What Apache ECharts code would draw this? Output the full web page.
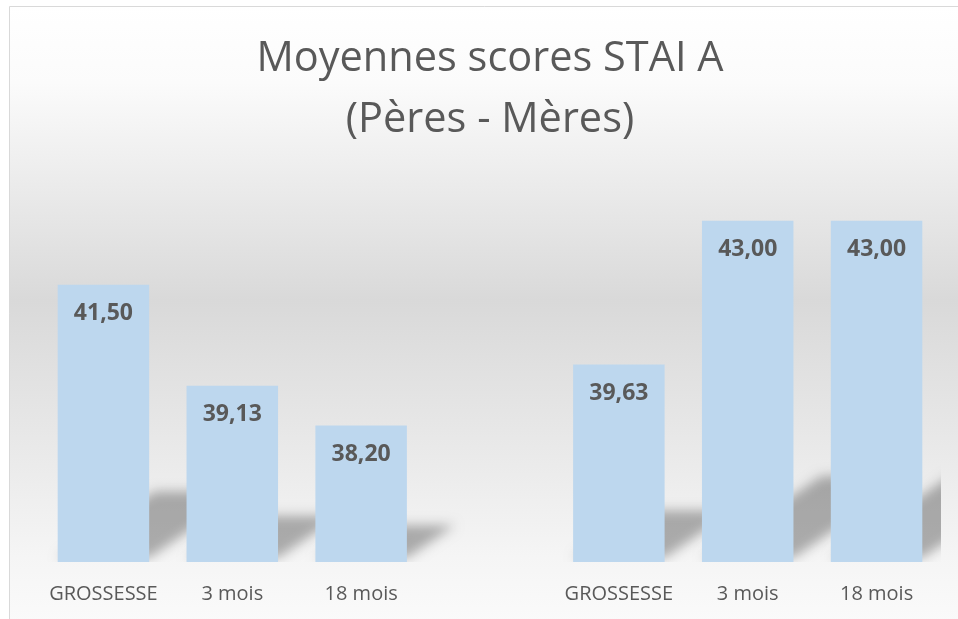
<!DOCTYPE html>
<html>
<head>
<meta charset="utf-8">
<script src="https://cdn.jsdelivr.net/npm/echarts@6/dist/echarts.min.js"></script>
<style>
  html, body { margin: 0; padding: 0; background: #fff; }
  #chart { width: 958px; height: 619px; }
</style>
</head>
<body>
<div id="chart"></div>
<script>
// Moyennes scores STAI A, pères puis mères
var periods = ['GROSSESSE', '3 mois', '18 mois'];
var peres = [41.50, 39.13, 38.20];
var meres = [39.63, 43.00, 43.00];

// une catégorie vide sépare les deux groupes
var categories = periods.concat(['']).concat(periods);
var values = peres.concat(['-']).concat(meres);

var shadowData = [];
values.forEach(function (v, i) {
  if (v !== '-') shadowData.push([i, v]);
});

var yMin = 35;
var yMax = 44;

var chart = echarts.init(document.getElementById('chart'));

var option = {
  animation: false,
  title: {
    text: 'Moyennes scores STAI A\n(Pères - Mères)',
    left: 490,
    top: 29,
    padding: 0,
    textAlign: 'center',
    textStyle: {
      fontFamily: 'Open Sans',
      fontWeight: 'normal',
      fontSize: 41.5,
      lineHeight: 61,
      color: '#595959'
    }
  },
  graphic: [{
    type: 'rect',
    z: -10,
    shape: { x: 9.5, y: 6.5, width: 990, height: 640 },
    style: {
      stroke: '#d9d9d9',
      lineWidth: 1,
      fill: {
        type: 'linear',
        x: 0, y: 0, x2: 0, y2: 1,
        colorStops: [
          { offset: 0, color: '#ffffff' },
          { offset: 0.12, color: '#fbfbfb' },
          { offset: 0.46, color: '#d9d9d9' },
          { offset: 0.86, color: '#f5f5f5' },
          { offset: 1, color: '#fcfcfc' }
        ]
      }
    }
  }],
  grid: { left: 39, right: 17, top: 178, bottom: 57 },
  xAxis: {
    type: 'category',
    data: categories,
    axisLine: { show: false },
    axisTick: { show: false },
    axisLabel: {
      margin: 22,
      interval: 0,
      fontFamily: 'Open Sans',
      fontSize: 20,
      color: '#595959'
    }
  },
  yAxis: {
    type: 'value',
    min: yMin,
    max: yMax,
    show: false,
    splitLine: { show: false }
  },
  series: [
    {
      // ombre portée en perspective (forme hors champ, seule l'ombre floue est visible)
      type: 'custom',
      clip: true,
      z: 1,
      silent: true,
      data: shadowData,
      renderItem: function (params, api) {
        var top = api.coord([api.value(0), api.value(1)]);
        var base = api.coord([api.value(0), yMin]);
        var w = api.size([1, 0])[0] * 0.71;
        var h = base[1] - top[1];
        var off = 3000;
        var xl = base[0] - w / 2 - off;
        var xr = base[0] + w / 2 - off;
        var yb = base[1] - 4;
        var dx = h * 0.35;
        var dy = h * 0.24;
        return {
          type: 'polygon',
          shape: {
            points: [
              [xl, yb],
              [xr, yb],
              [xr + dx, yb - dy],
              [xl + dx, yb - dy]
            ]
          },
          style: {
            fill: '#000',
            shadowColor: 'rgba(0,0,0,0.3)',
            shadowBlur: 12,
            shadowOffsetX: off,
            shadowOffsetY: 0
          }
        };
      }
    },
    {
      type: 'bar',
      z: 3,
      data: values,
      barCategoryGap: '29%',
      itemStyle: { color: '#bdd7ee' },
      label: {
        show: true,
        position: 'insideTop',
        distance: 17,
        fontFamily: 'Open Sans',
        fontWeight: 'bold',
        fontSize: 23,
        color: '#595959',
        formatter: function (p) {
          return p.value.toFixed(2).replace('.', ',');
        }
      }
    }
  ]
};

chart.setOption(option);
window.addEventListener('resize', function () { chart.resize(); });
</script>
</body>
</html>
